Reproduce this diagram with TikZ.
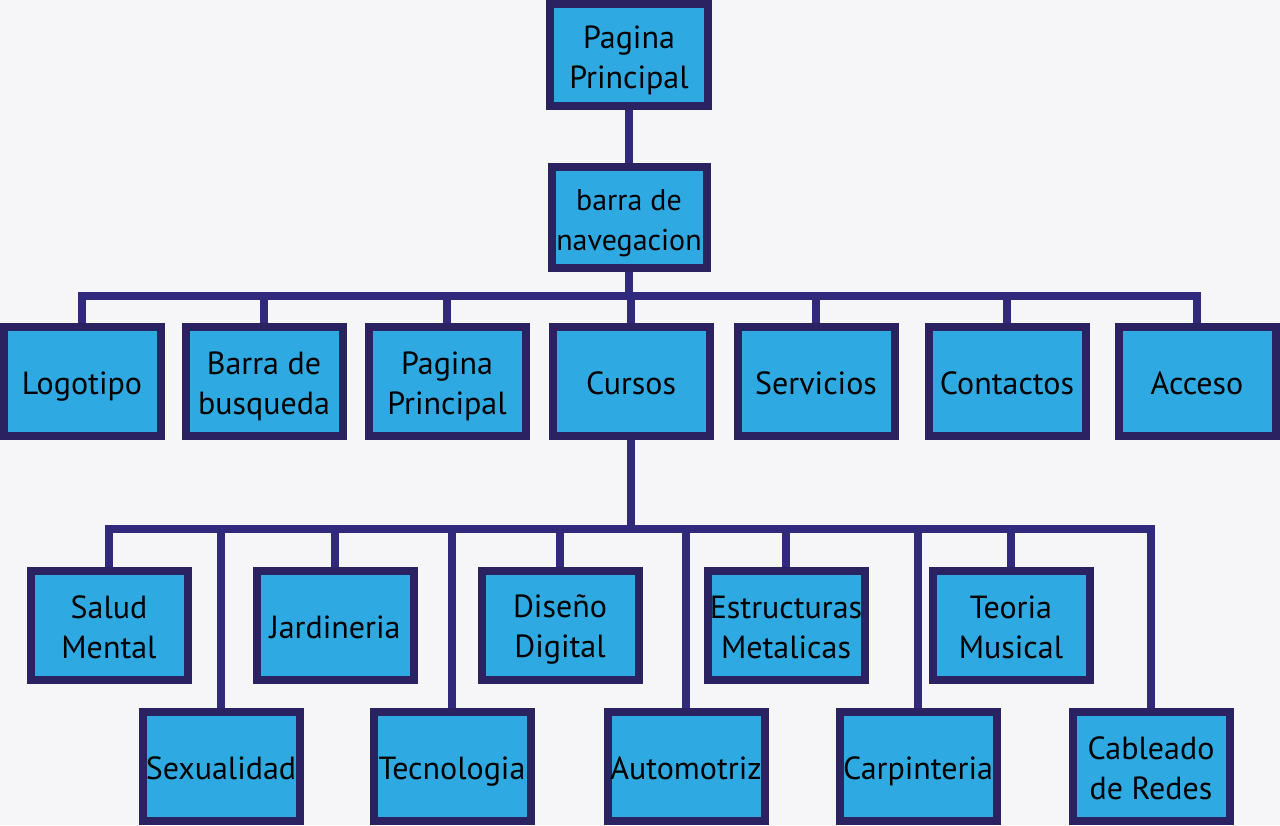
\documentclass[tikz,border=0pt]{standalone}
\usepackage{fontspec}
\setmainfont{PT Sans}
\usetikzlibrary{backgrounds}
\definecolor{boxfill}{HTML}{2EA9E1}
\definecolor{boxline}{HTML}{2B2262}
\definecolor{linecol}{HTML}{312A7C}
\definecolor{paper}{HTML}{F6F6F8}
\newcommand\boxstrut{\rule[-6.5pt]{0pt}{39pt}}
\newcommand\two[2]{\boxstrut#1\\#2\boxstrut}

\begin{document}
\begin{tikzpicture}[x=1pt,y=-1pt]
	\useasboundingbox (0,0) rectangle (1280,825);

	\begin{scope}[every node/.style={rectangle, draw=boxline, fill=boxfill, line width=8pt,
	              inner sep=0pt, minimum width=157pt, minimum height=109pt,
	              align=center, font=\fontsize{32}{40}\selectfont,
	              execute at begin node=\boxstrut, execute at end node=\boxstrut}]
		% top
		\node[minimum width=158pt, minimum height=102pt] (home) at (629,55) {\two{Pagina}{Principal}};
		\node[minimum width=155pt, minimum height=101pt, font=\fontsize{30}{40}\selectfont] (nav) at (629,217.5) {\two{barra de}{navegacion}};
		% menu
		\node (logo) at (82,381.5) {Logotipo};
		\node (search) at (264,381.5) {\two{Barra de}{busqueda}};
		\node (main) at (447,381.5) {\two{Pagina}{Principal}};
		\node (cursos) at (631,381.5) {Cursos};
		\node (serv) at (816,381.5) {Servicios};
		\node (cont) at (1007,381.5) {Contactos};
		\node (acc) at (1197,381.5) {Acceso};
		% cursos, upper row
		\node (salud) at (109,625) {\two{Salud}{Mental}};
		\node (jard) at (335,625) {Jardineria};
		\node (dis) at (560,625) {\two{Diseño}{Digital}};
		\node (estr) at (786,625) {\two{Estructuras}{Metalicas}};
		\node (teo) at (1011,625) {\two{Teoria}{Musical}};
		% cursos, lower row
		\node (sex) at (221,766.5) {Sexualidad};
		\node (tec) at (452,766.5) {Tecnologia};
		\node (auto) at (686,766.5) {Automotriz};
		\node (carp) at (918,766.5) {Carpinteria};
		\node (cab) at (1151,766.5) {\two{Cableado}{de Redes}};
	\end{scope}

	\coordinate (bus1) at (629,296);
	\coordinate (bus2) at (631,529);

	\begin{scope}[on background layer, link/.style={draw=linecol, line width=8pt}]
		\fill[paper] (0,0) rectangle (1280,825);
		\draw[link] (home) -- (nav);
		\foreach \n in {logo, search, main, cursos, serv, cont, acc}
			\draw[link] (nav.south) -- (nav.south |- bus1) -| (\n.north);
		\foreach \n in {salud, sex, jard, tec, dis, auto, estr, carp, teo, cab}
			\draw[link] (cursos.south) -- (cursos.south |- bus2) -| (\n.north);
	\end{scope}
\end{tikzpicture}
\end{document}
